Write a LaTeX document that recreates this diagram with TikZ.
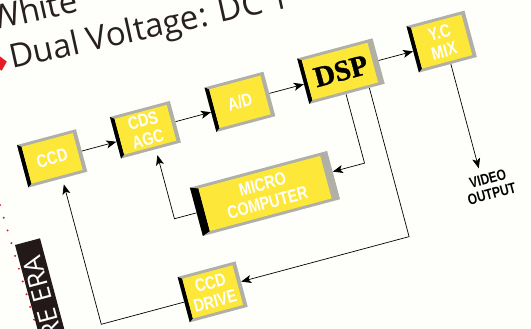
\documentclass[tikz,border=0pt]{standalone}
\usepackage{fontspec}
\usetikzlibrary{arrows.meta,calc,shapes.geometric}
\newfontfamily\boxfont[FakeStretch=0.8]{Liberation Sans}
\newfontfamily\serfont[FakeBold=1.2]{Liberation Serif}
\newfontfamily\topfont{Open Sans}
\definecolor{boxyellow}{RGB}{253,232,58}
\definecolor{bevgray}{RGB}{176,176,166}
\definecolor{bgcol}{RGB}{254,254,251}
\definecolor{bulred}{RGB}{228,28,40}
\definecolor{txtdark}{RGB}{40,32,32}
\definecolor{bardark}{RGB}{35,25,25}
\tikzset{
  conn/.style={draw=black, line width=0.7pt, -{Stealth[length=10pt,width=8pt,inset=2.5pt]}},
  lbl/.style={text=white, font=\boxfont\bfseries\fontsize{18}{19}\selectfont, align=center},
  dsplbl/.style={text=black, font=\serfont\bfseries\fontsize{29}{30}\selectfont},
  volbl/.style={text=black, font=\boxfont\bfseries\fontsize{15}{15.5}\selectfont, align=center, inner sep=0pt, transform shape},
  boxnode/.style={rectangle, inner sep=0pt, transform shape, draw=none},
  toptext/.style={anchor=base west, inner sep=0pt, rotate=12.5, text=txtdark, font=\topfont\fontsize{33}{38}\selectfont},
}
\newcommand\bevbox[9]{%
  \fill[bevgray] (#2,#3) -- (#4,#3) -- (#4,#5) -- (#2,#5) -- cycle;
  \fill[black] (#2,#3) -- ({#2+#6},{#3+3}) -- ({#2+#6},{#5-3}) -- (#2,#5) -- cycle;
  \fill[boxyellow] ({#2+#6},{#3+3}) -- ({#4-#7},{#3+3}) -- ({#4-#7},{#5-3}) -- ({#2+#6},{#5-3}) -- cycle;
  \node[boxnode, minimum width={(#4-(#2))*1pt}, minimum height={(#5-(#3))*1pt}, #8] (#1) at ({(#2+#4)/2},{(#3+#5)/2}) {#9};
}
\begin{document}
\begin{tikzpicture}[x=1pt,y=1pt]
\useasboundingbox (0,0) rectangle (531,329);
\clip (0,0) rectangle (531,329);
\fill[bgcol] (0,0) rectangle (531,329);

% top text
\node[toptext] (white) at (-8,298) {White};
\node[toptext] (dual) at (12,260) {Dual Voltage: DC 1};
\node[diamond, fill=bulred, minimum width=14pt, minimum height=16pt, inner sep=0pt, rotate=12] (bullet) at (0,266) {};

% left decoration
\draw[bulred, line width=2.2pt, line cap=round, dash pattern=on 0pt off 13.3pt] (-3.8,136.8) -- (41,-14);
\fill[bardark] (15,84) -- (40,90.7) -- (71,-25.3) -- (46,-32) -- cycle;
\node[rotate=105, anchor=east, inner sep=0pt, text=white, font=\topfont\fontsize{26}{28}\selectfont] (era) at (31.5,72.5) {RE ERA};

\begin{scope}[shift={(17,184)}, rotate=15]
\bevbox{ccd}{0}{-44}{61}{0}{4}{4}{lbl}{CCD}
\bevbox{cds}{97}{-40}{159}{3}{4}{4}{lbl}{CDS\\AGC}
\bevbox{ad}{196}{-39}{257}{7}{4}{4}{lbl}{A/D}
\bevbox{dsp}{293}{-36}{371}{11}{4}{6}{dsplbl}{DSP}
\bevbox{yc}{407}{-34}{467}{14}{4}{4}{lbl}{Y.C\\MIX}
\bevbox{mc}{156}{-136}{298}{-86}{8}{8}{lbl}{MICRO\\COMPUTER}
\bevbox{drv}{121}{-216}{181}{-169}{4}{4}{lbl}{CCD\\DRIVE}
\node[volbl, anchor=north] (vo) at (446,-149) {VIDEO\\OUTPUT};
\coordinate (vin) at (440,-142);

\draw[conn] ($(ccd.south east)!0.486!(ccd.north east)$) -- ($(cds.south west)!0.405!(cds.north west)$);
\draw[conn] ($(cds.south east)!0.5!(cds.north east)$) -- ($(ad.south west)!0.446!(ad.north west)$);
\draw[conn] ($(ad.south east)!0.511!(ad.north east)$) -- ($(dsp.south west)!0.436!(dsp.north west)$);
\draw[conn] ($(dsp.south east)!0.511!(dsp.north east)$) -- ($(yc.south west)!0.458!(yc.north west)$);
\draw[conn] ($(yc.south west)!0.55!(yc.south east)$) -- (vin);

\coordinate (k1) at (331,-107.5);
\draw[conn] ($(dsp.south west)!0.487!(dsp.south east)$) -- (k1) -- ($(mc.south east)!0.57!(mc.north east)$);
\coordinate (k2) at (133,-112);
\draw[conn, shorten >=6pt] ($(mc.south west)!0.48!(mc.north west)$) -- (k2) -- ($(cds.south west)!0.58!(cds.south east)$);
\coordinate (k3) at (355,-190);
\draw[conn] ($(dsp.south west)!0.795!(dsp.south east)$) -- (k3) -- ($(drv.south east)!0.553!(drv.north east)$);
\coordinate (k4) at (35,-195);
\draw[conn, shorten >=6pt] ($(drv.south west)!0.447!(drv.north west)$) -- (k4) -- ($(ccd.south west)!0.574!(ccd.south east)$);
\end{scope}
\end{tikzpicture}
\end{document}
